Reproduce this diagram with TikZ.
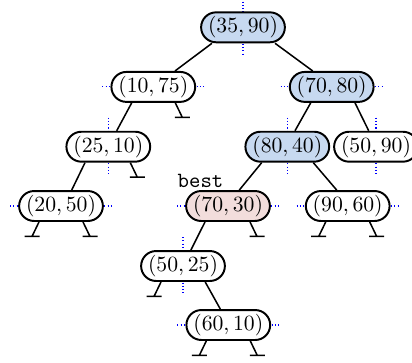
\documentclass[tikz,border=0pt]{standalone}
\usetikzlibrary{calc,backgrounds}
\definecolor{kdblue}{RGB}{199,217,240}
\definecolor{kdpink}{RGB}{242,221,220}
\newcommand\nullmark[2]{\draw[edgeline] ($(#1.south)+(#2*22,0)$) -- ++(#2*7,14.5) ++(-7.5,0) -- ++(15,0);}
\begin{document}
\begin{tikzpicture}[x=0.4608pt,y=-0.4608pt,
  kd/.style={draw=black,line width=0.9pt,fill=white,rounded corners=6.9pt,
    minimum width=38.6pt,minimum height=13.8pt,inner xsep=3pt,inner ysep=1.9pt},
  hit/.style={kd,fill=kdblue},
  bestnode/.style={kd,fill=kdpink},
  edgeline/.style={line width=0.7pt},
  split/.style={blue,line width=0.5pt,dash pattern=on 0.5pt off 1pt}]
\useasboundingbox (0,0) rectangle (412,362);
\node[hit] (A) at (243,27.3) {$(35,90)$};
\node[kd] (B) at (153.3,86.9) {$(10,75)$};
\node[hit] (C) at (331.7,86.9) {$(70,80)$};
\node[kd] (D) at (108.3,146.7) {$(25,10)$};
\node[hit] (E) at (287.3,146.7) {$(80,40)$};
\node[kd] (F) at (376,146.7) {$(50,90)$};
\node[kd] (G) at (61,206) {$(20,50)$};
\node[bestnode] (H) at (228,206) {$(70,30)$};
\node[kd] (I) at (347.7,206) {$(90,60)$};
\node[kd] (J) at (183,266) {$(50,25)$};
\node[kd] (K) at (228.3,325) {$(60,10)$};
\node[font=\ttfamily,anchor=base,inner sep=0pt] (bestlbl) at (200.5,187.3) {best};
\begin{scope}[on background layer]
\foreach \n in {A,D,E,F,J} \draw[split] ($(\n)+(0,-29)$) -- ($(\n)+(0,29)$);
\foreach \n in {B,C,G,H,I,K} \draw[split] ($(\n)+(-51,0)$) -- ($(\n)+(51,0)$);
\end{scope}
\draw[edgeline] ($(A.south)+(-31,0)$) -- ($(B.north)+(21.7,0)$);
\draw[edgeline] ($(A.south)+(32,0)$) -- ($(C.north)+(-19,0)$);
\draw[edgeline] ($(B.south)+(-21.6,0)$) -- ($(D.north)+(8.4,0)$);
\draw[edgeline] ($(C.south)+(-21,0)$) -- ($(E.north)+(7.7,0)$);
\draw[edgeline] ($(C.south)+(23.3,0)$) -- ($(F.north)+(-7.3,0)$);
\draw[edgeline] ($(D.south)+(-23.3,0)$) -- ($(G.north)+(10.7,0)$);
\draw[edgeline] ($(E.south)+(-25.6,0)$) -- ($(H.north)+(11.3,0)$);
\draw[edgeline] ($(E.south)+(26,0)$) -- ($(I.north)+(-11,0)$);
\draw[edgeline] ($(H.south)+(-23,0)$) -- ($(J.north)+(7.9,0)$);
\draw[edgeline] ($(J.south)+(22.2,0)$) -- ($(K.north)+(-8,0)$);
\nullmark{B}{1}
\nullmark{D}{1}
\nullmark{G}{-1}
\nullmark{G}{1}
\nullmark{H}{1}
\nullmark{I}{-1}
\nullmark{I}{1}
\nullmark{J}{-1}
\nullmark{K}{-1}
\nullmark{K}{1}
\end{tikzpicture}
\end{document}
